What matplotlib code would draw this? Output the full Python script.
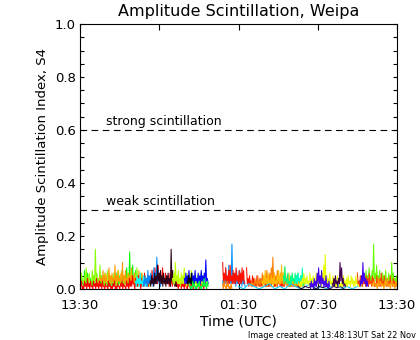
# Amplitude scintillation (S4) at Weipa, one line per satellite

import numpy as np
import matplotlib
matplotlib.use('Agg')
import matplotlib.pyplot as plt

# Tick labels on the time axis (hours after 13:30 UT)
time_ticks = [0, 6, 12, 18, 24]
time_labels = ['13:30', '19:30', '01:30', '07:30', '13:30']

# Threshold lines
strong_level = 0.6
weak_level = 0.3

# S4 values, each satellite pass with its start/end hour
lime_a = [0.03, 0.01, 0.05, 0.02, 0.02, 0.01, 0.07, 0.02, 0.04, 0.01, 0.06, 0.02, 0.02, 0.01,
          0.04, 0.01, 0.03, 0.01, 0.05, 0.02, 0.02, 0.01, 0.04, 0.02, 0.02, 0.01, 0.03, 0.01,
          0.05, 0.02, 0.02, 0.01, 0.03, 0.01, 0.04, 0.02, 0.02, 0.01, 0.03, 0.01, 0.05, 0.02,
          0.02, 0.01, 0.04, 0.01, 0.03, 0.02, 0.06, 0.02, 0.03, 0.01, 0.05, 0.02, 0.04, 0.01,
          0.07, 0.02, 0.03, 0.01, 0.05, 0.02, 0.08, 0.03, 0.04, 0.02, 0.14, 0.03, 0.06, 0.02,
          0.09, 0.03, 0.04, 0.01, 0.07, 0.02, 0.03, 0.01, 0.05, 0.02]
chart_a = [0.04, 0.02, 0.06, 0.03, 0.03, 0.02, 0.05, 0.02, 0.08, 0.03, 0.04, 0.02, 0.06, 0.03,
           0.03, 0.01, 0.07, 0.03, 0.05, 0.02, 0.15, 0.03, 0.06, 0.02, 0.04, 0.02, 0.09, 0.03,
           0.05, 0.02, 0.03, 0.01, 0.06, 0.02, 0.04, 0.02, 0.07, 0.03, 0.03, 0.01, 0.05, 0.02,
           0.04, 0.02, 0.06, 0.03, 0.03, 0.01, 0.05, 0.02, 0.07, 0.03, 0.04, 0.02, 0.06, 0.03,
           0.03, 0.01, 0.05, 0.02, 0.04, 0.02, 0.06, 0.03, 0.03, 0.01, 0.07, 0.03, 0.05, 0.02,
           0.04, 0.02, 0.06, 0.03, 0.08, 0.03, 0.05, 0.02, 0.03, 0.01, 0.06, 0.02, 0.04, 0.02,
           0.05, 0.02, 0.03, 0.01, 0.04, 0.02, 0.02, 0.01]
orange_a = [0.03, 0.02, 0.05, 0.03, 0.04, 0.02, 0.07, 0.03, 0.05, 0.02, 0.06, 0.03, 0.03, 0.02,
            0.08, 0.03, 0.05, 0.02, 0.06, 0.03, 0.04, 0.02, 0.09, 0.03, 0.05, 0.02, 0.07, 0.03,
            0.04, 0.02, 0.06, 0.03, 0.10, 0.03, 0.05, 0.02, 0.07, 0.03, 0.04, 0.02, 0.06, 0.03,
            0.05, 0.02, 0.08, 0.03, 0.04, 0.02, 0.06, 0.03, 0.03, 0.02, 0.05, 0.02, 0.07, 0.03,
            0.04, 0.02, 0.06, 0.03, 0.03, 0.02, 0.05, 0.02, 0.04, 0.02, 0.03, 0.01]
red_a = [0.02, 0.01, 0.03, 0.0, 0.01, 0.0, 0.03, 0.01, 0.02, 0.0, 0.04, 0.01, 0.02, 0.0,
         0.03, 0.01, 0.01, 0.0, 0.03, 0.01, 0.02, 0.0, 0.04, 0.01, 0.02, 0.0, 0.03, 0.01,
         0.02, 0.0, 0.03, 0.01, 0.01, 0.0, 0.02, 0.01, 0.01, 0.0, 0.03, 0.01, 0.02, 0.0,
         0.01, 0.0, 0.02, 0.01, 0.03, 0.0, 0.01, 0.0, 0.02, 0.01, 0.01, 0.0, 0.02, 0.01,
         0.03, 0.0, 0.02, 0.01, 0.01, 0.0, 0.03, 0.01, 0.02, 0.0, 0.04, 0.01, 0.03, 0.01,
         0.05, 0.02, 0.02, 0.0, 0.04, 0.01, 0.03, 0.01, 0.05, 0.02, 0.02, 0.0, 0.04, 0.01,
         0.03, 0.01, 0.06, 0.02, 0.04, 0.01, 0.03, 0.01, 0.05, 0.02, 0.04, 0.02, 0.07, 0.03,
         0.05, 0.02, 0.08, 0.03, 0.04, 0.02, 0.09, 0.03, 0.06, 0.02, 0.05, 0.02, 0.08, 0.03,
         0.04, 0.02, 0.06, 0.02, 0.05, 0.02, 0.03, 0.01, 0.06, 0.02, 0.04, 0.01, 0.05, 0.02,
         0.03, 0.01, 0.04, 0.01, 0.02, 0.0, 0.03, 0.01, 0.02, 0.0, 0.04, 0.01, 0.02, 0.0,
         0.03, 0.01, 0.01, 0.0, 0.03, 0.01, 0.02, 0.0, 0.04, 0.01, 0.02, 0.0, 0.03, 0.01,
         0.01, 0.0, 0.02, 0.01, 0.03, 0.0, 0.02, 0.01, 0.04, 0.01, 0.02, 0.0, 0.03, 0.01,
         0.02, 0.0]
cyan_a = [0.03, 0.01, 0.05, 0.02, 0.04, 0.01, 0.06, 0.02, 0.03, 0.01, 0.05, 0.02, 0.04, 0.01,
          0.02, 0.01]
sky_a = [0.03, 0.01, 0.05, 0.02, 0.04, 0.01, 0.07, 0.02, 0.05, 0.02, 0.06, 0.02, 0.04, 0.01,
         0.08, 0.02, 0.06, 0.02, 0.12, 0.03, 0.07, 0.02, 0.05, 0.01]
plum_a = [0.03, 0.01, 0.05, 0.02, 0.04, 0.01, 0.06, 0.02, 0.05, 0.02, 0.09, 0.03, 0.06, 0.02,
          0.07, 0.02, 0.05, 0.01, 0.06, 0.02, 0.04, 0.01, 0.05, 0.02, 0.06, 0.02, 0.04, 0.01,
          0.15, 0.03, 0.07, 0.02, 0.05, 0.01, 0.03, 0.01]
yg_a = [0.04, 0.02, 0.06, 0.02, 0.10, 0.03, 0.05, 0.02, 0.07, 0.02, 0.04, 0.01, 0.06, 0.02,
        0.05, 0.02, 0.08, 0.03, 0.04, 0.01, 0.06, 0.02, 0.03, 0.01, 0.05, 0.02, 0.07, 0.02,
        0.04, 0.01, 0.06, 0.02, 0.03, 0.01, 0.05, 0.02, 0.04, 0.01, 0.06, 0.02, 0.03, 0.01,
        0.05, 0.02, 0.02, 0.01, 0.03, 0.01]
green_a = [0.02, 0.0, 0.01, 0.0, 0.03, 0.01, 0.02, 0.0, 0.01, 0.0, 0.02, 0.01, 0.03, 0.0,
           0.01, 0.0, 0.02, 0.01, 0.04, 0.01, 0.02, 0.0, 0.03, 0.01]
blue_a = [0.04, 0.02, 0.06, 0.02, 0.05, 0.02, 0.07, 0.03, 0.04, 0.02, 0.06, 0.02, 0.05, 0.02,
          0.07, 0.03, 0.04, 0.02, 0.06, 0.02, 0.05, 0.02, 0.07, 0.03, 0.05, 0.02, 0.06, 0.02,
          0.11, 0.03, 0.04, 0.02]
black_a = [0.03, 0.02, 0.05, 0.02, 0.04, 0.02, 0.06, 0.02, 0.03, 0.02]
red_b = [0.10, 0.03, 0.06, 0.02, 0.08, 0.03, 0.05, 0.02, 0.07, 0.02, 0.09, 0.03, 0.05, 0.02,
         0.07, 0.02, 0.06, 0.02, 0.08, 0.03, 0.05, 0.02, 0.07, 0.02, 0.06, 0.02, 0.08, 0.03,
         0.07, 0.02, np.nan, np.nan, 0.08, 0.02, 0.04, 0.01, 0.05, 0.02, 0.03, 0.01, 0.05, 0.02,
         0.04, 0.01, 0.03, 0.01, 0.05, 0.02, 0.02, 0.01, 0.04, 0.01, 0.03, 0.01, 0.05, 0.02,
         0.03, 0.01, 0.04, 0.01, 0.02, 0.01, 0.04, 0.01, 0.03, 0.01, 0.05, 0.02, 0.02, 0.01,
         0.04, 0.01, 0.03, 0.01, 0.05, 0.02, 0.03, 0.01, 0.04, 0.01, 0.02, 0.01, 0.03, 0.01,
         0.05, 0.02, 0.03, 0.01, 0.04, 0.01, 0.02, 0.01, 0.04, 0.01, 0.03, 0.01, 0.02, 0.01,
         0.03, 0.01]
sky_b = [0.03, 0.01, 0.05, 0.02, 0.08, 0.02, 0.04, 0.01, 0.09, 0.03, 0.05, 0.02, 0.17, 0.03,
         0.06, 0.02, 0.04, 0.01, 0.07, 0.02, 0.05, 0.02, 0.07, 0.02, 0.04, 0.01, 0.06, 0.02,
         0.03, 0.01]
orange_b = [0.02, 0.0, 0.03, 0.01, 0.01, 0.0, 0.03, 0.01, 0.02, 0.0, 0.01, 0.0, 0.02, 0.0]
orange_c = [0.02, 0.01, 0.03, 0.01, 0.02, 0.01, 0.04, 0.02, 0.03, 0.01, 0.05, 0.02, 0.03, 0.01,
            0.04, 0.02, 0.06, 0.02, 0.04, 0.02, 0.05, 0.02, 0.07, 0.03, 0.05, 0.02, 0.06, 0.02,
            0.08, 0.03, 0.12, 0.03, 0.06, 0.02, 0.05, 0.02, 0.07, 0.03, 0.04, 0.02, 0.06, 0.02,
            0.05, 0.02, 0.04, 0.01, 0.06, 0.02, 0.03, 0.01, 0.05, 0.02, 0.04, 0.01, 0.03, 0.01,
            0.05, 0.02, 0.03, 0.01, 0.04, 0.01, 0.02, 0.01, 0.03, 0.01, 0.02, 0.01]
gold_a = [0.03, 0.01, 0.05, 0.02, 0.07, 0.02, 0.04, 0.01, 0.06, 0.02, 0.03, 0.01, 0.05, 0.02,
          0.04, 0.01, 0.06, 0.02, 0.03, 0.01, 0.05, 0.02, 0.07, 0.02, 0.05, 0.02, 0.09, 0.03,
          0.06, 0.02, 0.08, 0.03, 0.05, 0.02, 0.04, 0.01, 0.06, 0.02, 0.03, 0.01, 0.05, 0.02,
          0.04, 0.01, 0.03, 0.01, 0.05, 0.02, 0.04, 0.01, 0.03, 0.01, 0.04, 0.01, 0.02, 0.01,
          0.03, 0.01]
spring_a = [0.05, 0.02, 0.085, 0.03, 0.04, 0.02, 0.06, 0.02, 0.03, 0.01, 0.05, 0.02, 0.06, 0.03,
            0.04, 0.02, 0.06, 0.03, 0.05, 0.02, 0.06, 0.03, 0.04, 0.02, 0.05, 0.02, 0.03, 0.01,
            0.04, 0.02]
aqua_a = [0.04, 0.02, 0.05, 0.02, 0.06, 0.03, 0.04, 0.02, 0.05, 0.02, 0.08, 0.03, 0.05, 0.02,
          0.04, 0.02]
yellow_a = [0.02, 0.01, 0.03, 0.01, 0.04, 0.02, 0.06, 0.02, 0.04, 0.02, 0.05, 0.02, 0.03, 0.01,
            0.06, 0.02, 0.04, 0.02, 0.05, 0.02, 0.03, 0.01, 0.06, 0.02, 0.04, 0.02, 0.05, 0.02,
            0.04, 0.01, 0.06, 0.02, 0.09, 0.02, 0.13, 0.03, 0.05, 0.02, 0.04, 0.01, 0.06, 0.02,
            0.03, 0.01, 0.05, 0.02, 0.04, 0.01, 0.03, 0.01, 0.05, 0.02, 0.04, 0.01, 0.02, 0.01,
            0.03, 0.01, 0.05, 0.02, 0.03, 0.01, 0.04, 0.01, 0.05, 0.02, 0.03, 0.01, 0.05, 0.02,
            0.04, 0.01, 0.03, 0.01, 0.05, 0.02, 0.03, 0.01, 0.02, 0.01, 0.03, 0.01, 0.02, 0.01]
indigo_a = [0.02, 0.0, 0.03, 0.01, 0.02, 0.0, 0.04, 0.01, 0.03, 0.01, 0.06, 0.02, 0.08, 0.02,
            0.05, 0.01, 0.07, 0.02, 0.04, 0.01, 0.03, 0.01, 0.05, 0.01, 0.02, 0.0, 0.03, 0.01]
indigo_b = [0.03, 0.01, 0.05, 0.02, 0.10, 0.03, 0.06, 0.02, 0.04, 0.01, 0.03, 0.01]
purple_a = [0.02, 0.01, 0.04, 0.01, 0.05, 0.02, 0.03, 0.01, 0.04, 0.02, 0.10, 0.03, 0.08, 0.02,
            0.04, 0.01, 0.02, 0.01]
purple_low = [0.01, 0.0, 0.01, 0.005, 0.01, 0.0, 0.01, 0.005, 0.01, 0.0, 0.01, 0.005, 0.01, 0.0]
cyan_low = [0.01, 0.0, 0.02, 0.01, 0.0, 0.01, 0.02, 0.0, 0.01, 0.0, 0.02, 0.01, 0.0, 0.01,
            0.02, 0.0, 0.01, 0.0, 0.01, 0.02, 0.0, 0.01, 0.0, 0.01]
redor_a = [0.06, 0.02, 0.03, 0.01, 0.05, 0.02, 0.04, 0.01, 0.06, 0.02, 0.03, 0.01, 0.05, 0.02,
           0.04, 0.01, 0.06, 0.02, 0.03, 0.01, 0.05, 0.02, 0.04, 0.01, 0.02, 0.01, 0.05, 0.02,
           0.03, 0.01, 0.04, 0.01, 0.06, 0.02, 0.03, 0.01, 0.05, 0.02, 0.02, 0.01, 0.04, 0.01,
           0.03, 0.01, 0.05, 0.02, 0.02, 0.01, 0.04, 0.01, 0.03, 0.01, 0.02, 0.01]
lime_b = [0.03, 0.02, 0.05, 0.02, 0.06, 0.03, 0.04, 0.02, 0.07, 0.03, 0.05, 0.02, 0.08, 0.03,
          0.05, 0.02, 0.07, 0.03, 0.17, 0.04, 0.06, 0.03, 0.09, 0.03, 0.05, 0.02, 0.07, 0.03,
          0.04, 0.02, 0.06, 0.03, 0.05, 0.02, 0.07, 0.03, 0.04, 0.02, 0.06, 0.03, 0.05, 0.02,
          0.10, 0.03, 0.06, 0.02, 0.04, 0.02, 0.05, 0.02]
amber_a = [0.02, 0.01, 0.03, 0.01, 0.02, 0.0, 0.04, 0.01, 0.03, 0.01, 0.02, 0.0, 0.03, 0.01,
           0.04, 0.01, 0.02, 0.0, 0.03, 0.01, 0.02, 0.0, 0.03, 0.01]

# (values, start hour, end hour, colour) in drawing order
passes = [
    (lime_a, 0.0, 4.5, '#00ff00'),
    (chart_a, 0.0, 5.3, '#88ff00'),
    (orange_a, 1.4, 5.2, '#ff9900'),
    (red_a, 0.0, 9.6, '#ff0000'),
    (cyan_a, 4.2, 5.1, '#00ffff'),
    (sky_a, 4.8, 6.1, '#0088ff'),
    (plum_a, 5.3, 7.3, '#2a0018'),
    (yg_a, 7.0, 9.6, '#c0ff00'),
    (blue_a, 7.9, 9.7, '#0000ff'),
    (black_a, 8.1, 8.6, '#000000'),
    (green_a, 8.3, 9.7, '#00ff40'),
    (sky_b, 10.8, 12.5, '#0090ff'),
    (red_b, 10.8, 16.4, '#ff1000'),
    (orange_b, 10.8, 11.5, '#ff8800'),
    (orange_c, 12.9, 16.7, '#ff8000'),
    (gold_a, 13.8, 17.0, '#ffbb00'),
    (spring_a, 15.4, 17.0, '#00ff80'),
    (aqua_a, 16.3, 17.1, '#00ffc0'),
    (cyan_low, 12.0, 21.0, '#00ccff'),
    (purple_low, 16.5, 20.0, '#300040'),
    (yellow_a, 16.6, 21.4, '#e8ff00'),
    (indigo_a, 17.4, 18.9, '#4400ee'),
    (purple_a, 19.1, 20.1, '#400050'),
    (lime_b, 21.2, 24.0, '#66ff00'),
    (redor_a, 21.0, 24.0, '#ff4400'),
    (amber_a, 22.1, 24.0, '#ffa000'),
    (indigo_b, 21.2, 21.8, '#4400ee'),
]

plt.rcParams['font.family'] = 'DejaVu Sans'
fig = plt.figure(figsize=(4.2, 3.4), dpi=100)
ax = fig.add_axes([80 / 420, 51 / 340, 317 / 420, 265 / 340])

for vals, t0, t1, col in passes:
    t = np.linspace(t0, t1, len(vals))
    ax.plot(t, vals, color=col, lw=0.75)

# Threshold lines and their labels
ax.axhline(strong_level, color='black', lw=0.8, dashes=(6, 4))
ax.axhline(weak_level, color='black', lw=0.8, dashes=(6, 4))
ax.text(2.0, strong_level + 0.018, 'strong scintillation', fontsize=9)
ax.text(2.0, weak_level + 0.018, 'weak scintillation', fontsize=9)

ax.set_xlim(0, 24)
ax.set_ylim(0, 1.0)
ax.set_xticks(time_ticks)
ax.set_xticklabels(time_labels)
ax.set_yticks(np.arange(0, 1.01, 0.2))
ax.set_yticklabels(['0.0', '0.2', '0.4', '0.6', '0.8', '1.0'])
ax.set_yticks(np.arange(0, 1.01, 0.05), minor=True)
ax.tick_params(axis='both', direction='in', top=True, right=True, labelsize=9.5, width=0.8)
ax.tick_params(axis='x', length=4, pad=7)
ax.tick_params(axis='y', length=3, pad=3)
ax.tick_params(axis='y', which='minor', direction='in', right=True, length=3, width=0.8)
for sp in ax.spines.values():
    sp.set_linewidth(0.8)

ax.set_title('Amplitude Scintillation, Weipa', fontsize=11.5, pad=6)
ax.set_xlabel('Time (UTC)', fontsize=10, labelpad=2)
ax.set_ylabel('Amplitude Scintillation Index, S4', fontsize=9.5, labelpad=4)
fig.text(248 / 420, 1 - 335 / 340, 'Image created at 13:48:13UT Sat 22 Nov', fontsize=5.9,
         va='center', ha='left')

fig.savefig('out.png', dpi=100)
